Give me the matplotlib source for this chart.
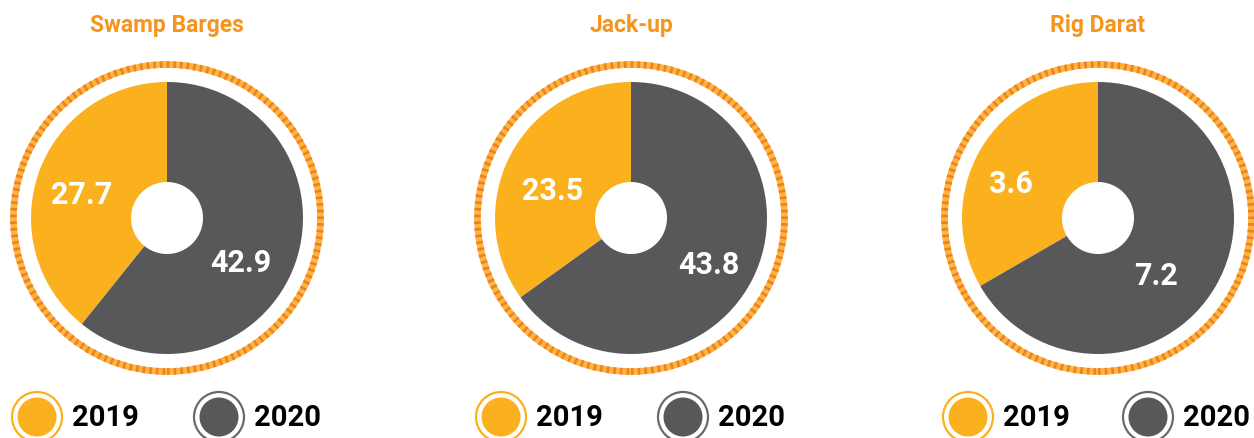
import matplotlib.pyplot as plt
from matplotlib.patches import Circle

# --- data ---
titles = ['Swamp Barges', 'Jack-up', 'Rig Darat']
years = ['2019', '2020']
vals_2019 = [27.7, 23.5, 3.6]
vals_2020 = [42.9, 43.8, 7.2]

# --- layout (pixels, origin top-left) ---
W, H = 1254, 439
centers_x = [167, 631, 1098]
center_y = 219
pie_r = 136
hole_r = 36
ring_r = 153.5
# label offsets from the pie centre (2019, 2020)
label_off = [((-85, -24), (74, 44)),
             ((-78, -28), (78, 46)),
             ((-87, -35), (58, 57))]
legend_y = 418
legend_dx = [(-130, 52), (-130, 52), (-130, 50)]   # circle x offset for 2019 / 2020

yellow = '#FBB01E'
grey = '#58585A'
grey_ring = '#6A6A6A'
orange_title = '#F7941D'
ring_light = '#FDB53A'
ring_dark = '#EE7F2D'

fig = plt.figure(figsize=(W / 100, H / 100), dpi=100)
ax = fig.add_axes([0, 0, 1, 1])


def Y(y):
    return H - y


for i, title in enumerate(titles):
    cx, cy = centers_x[i], Y(center_y)

    ax.pie([vals_2019[i], vals_2020[i]], colors=[yellow, grey],
           startangle=90, counterclock=True, radius=pie_r, center=(cx, cy),
           wedgeprops=dict(width=pie_r - hole_r, linewidth=0),
           frame=True)

    # striped outer ring
    ax.add_patch(Circle((cx, cy), ring_r, fill=False, ec=ring_light, lw=4.8))
    ax.add_patch(Circle((cx, cy), ring_r, fill=False, ec=ring_dark, lw=4.8,
                        linestyle=(0, (0.4, 0.6))))

    # value labels
    for val, (dx, dy) in zip([vals_2019[i], vals_2020[i]], label_off[i]):
        ax.text(cx + dx, cy - dy, f'{val:.1f}', color='white', fontsize=22,
                fontweight='bold', family='Roboto', ha='center', va='center')

    ax.text(cx, Y(25), title, color=orange_title, fontsize=16.5,
            fontweight='bold', family='Roboto', ha='center', va='center')

    # legend
    for year, off, fc, ec in zip(years, legend_dx[i], [yellow, grey], [yellow, grey_ring]):
        lx = cx + off
        ax.add_patch(Circle((lx, Y(legend_y)), 25, fill=False, ec=ec, lw=1.6))
        ax.add_patch(Circle((lx, Y(legend_y)), 19.5, fc=fc, ec='none'))
        ax.text(lx + 35, Y(legend_y), year, color='black', fontsize=21,
                fontweight='bold', family='Roboto', ha='left', va='center')

ax.set_xlim(0, W)
ax.set_ylim(0, H)
ax.set_aspect('auto')
ax.axis('off')

fig.savefig('out.png', dpi=100)
